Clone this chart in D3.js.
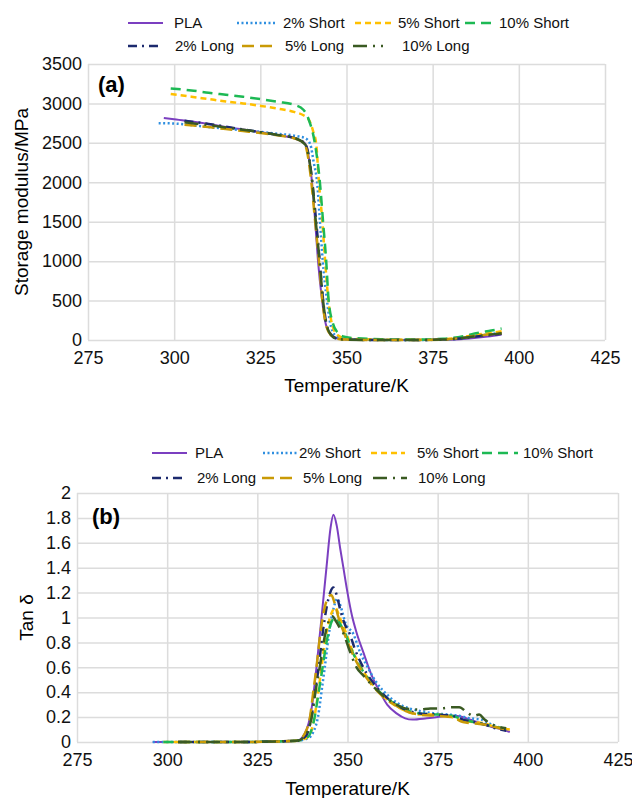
<!DOCTYPE html>
<html>
<head>
<meta charset="utf-8">
<script src="https://cdn.jsdelivr.net/npm/d3@7"></script>
<style>
  body { margin: 0; background: #fff; }
  svg { font-family: "Liberation Sans", Arial, sans-serif; }
  .grid line { stroke: #dcdcdc; stroke-width: 1.5; }
  .grid path { display: none; }
  .grid text { font-size: 18px; fill: #111; }
</style>
</head>
<body>
<svg id="chart" width="632" height="798"></svg>
<script>
// ---- data ----
var tempTicks = [275, 300, 325, 350, 375, 400, 425];
var modTicks = [0, 500, 1000, 1500, 2000, 2500, 3000, 3500];
var tanTicks = [0, 0.2, 0.4, 0.6, 0.8, 1, 1.2, 1.4, 1.6, 1.8, 2];
var seriesNames = ["PLA", "2% Short", "5% Short", "10% Short", "2% Long", "5% Long", "10% Long"];

// storage modulus, [T (K), E' (MPa)]
var modPLA = [[297,2815],[300,2800],[305,2770],[310,2740],[315,2700],[320,2670],[325,2635],[330,2600],[335,2555],[337,2520],[338,2490],[339,2330],[340,2000],[341,1450],[341.7,1020],[342.9,510],[344,200],[345,90],[346.4,40],[348,15],[350,5],[360,0],[370,0],[378,2],[383,10],[387,25],[391,45],[395,70]];
var mod2S = [[295.5,2750],[300,2745],[305,2725],[310,2700],[315,2680],[320,2660],[325,2640],[330,2615],[335,2590],[338,2560],[339.5,2480],[340.5,2250],[341.5,1990],[342.3,1500],[343.1,1010],[344.3,510],[345.5,170],[347,50],[350,10],[360,2],[370,0],[378,5],[383,20],[387,50],[391,70],[395,90]];
var mod5S = [[299,3120],[305,3085],[310,3055],[315,3025],[320,3000],[325,2970],[330,2935],[335,2890],[337.5,2850],[339.1,2790],[340.3,2650],[341.2,2490],[342,2000],[343,1500],[343.8,1000],[344.7,520],[345.8,200],[347.5,60],[350,20],[360,5],[370,2],[378,8],[384,40],[388,70],[392,90],[395,110]];
var mod10S = [[299,3190],[305,3165],[310,3135],[315,3110],[320,3085],[325,3055],[330,3020],[335,2980],[337.5,2920],[339,2800],[340.8,2500],[342.3,1990],[343.2,1500],[344.1,1010],[344.8,510],[346,220],[347.5,90],[349,45],[352,25],[360,10],[370,5],[378,15],[384,50],[388,90],[392,120],[395,145]];
var mod2L = [[303,2780],[310,2740],[315,2705],[320,2670],[325,2635],[330,2600],[335,2560],[338,2490],[339,2350],[340.1,1990],[341,1600],[342.2,1010],[343.2,510],[344.2,200],[345.5,70],[347,20],[350,5],[360,0],[370,0],[378,5],[383,20],[387,40],[391,60],[395,80]];
var mod5L = [[303,2730],[310,2700],[315,2675],[320,2650],[325,2625],[330,2595],[335,2555],[337.5,2500],[338.5,2400],[339.8,2000],[340.8,1550],[342,1010],[343,500],[344,200],[345.5,60],[347,20],[350,5],[360,0],[370,0],[378,5],[383,25],[387,50],[391,70],[395,90]];
var mod10L = [[303,2760],[310,2725],[315,2695],[320,2665],[325,2635],[330,2600],[335,2560],[338,2480],[339,2330],[340.1,1990],[341,1550],[342.2,1000],[343.2,500],[344.2,200],[345.5,65],[347,18],[350,5],[360,0],[370,0],[378,5],[383,22],[387,45],[391,65],[395,85]];

// tan delta, [T (K), tan d]
var tanPLA = [[296,0],[320,0],[336,0.01],[338.2,0.07],[340.1,0.28],[341.4,0.6],[342.8,1.0],[344.2,1.41],[345.3,1.72],[346.1,1.825],[347,1.74],[348,1.55],[348.8,1.41],[350,1.2],[351.2,1.02],[352.5,0.88],[354.4,0.72],[356.5,0.55],[359,0.4],[361,0.3],[363.6,0.23],[366,0.19],[368,0.18],[372,0.19],[375,0.2],[378,0.21],[380,0.21],[383,0.19],[385,0.17],[388,0.14],[390,0.12],[393,0.1],[395,0.08]];
var tan2S = [[296,0],[320,0],[336,0.01],[339,0.03],[340.5,0.08],[341.8,0.2],[343,0.45],[343.7,0.6],[345,0.9],[346.2,1.08],[347.2,1.15],[348.2,1.08],[349.5,0.95],[351.6,0.87],[353.5,0.72],[355.6,0.6],[358,0.48],[361,0.38],[364,0.31],[367,0.27],[370,0.25],[374,0.23],[378,0.22],[381,0.21],[384,0.19],[387,0.18],[390,0.14],[393,0.11],[395,0.1]];
var tan5S = [[299,0],[320,0],[336,0.01],[339,0.04],[340.5,0.15],[341.5,0.32],[342.8,0.6],[344,0.85],[345.5,1.03],[346.6,1.08],[347.5,1.03],[348.5,0.95],[349.7,0.87],[351,0.76],[353,0.64],[355,0.54],[358,0.43],[361,0.34],[364,0.28],[367,0.24],[370,0.22],[375,0.22],[379,0.2],[382,0.17],[385,0.16],[388,0.15],[391,0.12],[395,0.1]];
var tan10S = [[299,0],[320,0],[336,0.01],[339,0.04],[340.9,0.2],[342,0.4],[343.1,0.6],[344.3,0.82],[345.5,0.96],[346.6,1.0],[347.5,0.97],[348.5,0.92],[349.7,0.85],[351,0.75],[353,0.63],[355,0.54],[358,0.43],[361,0.35],[364,0.29],[367,0.25],[370,0.23],[375,0.22],[379,0.21],[382,0.18],[385,0.16],[388,0.14],[391,0.12],[395,0.1]];
var tan2L = [[303,0],[320,0],[336,0.01],[338.5,0.05],[340,0.2],[341,0.4],[342,0.6],[343,0.85],[344.2,1.08],[345.2,1.2],[346.1,1.24],[347,1.18],[348,1.06],[349.2,0.95],[350.6,0.87],[352,0.75],[354,0.62],[357,0.48],[360,0.38],[363,0.31],[366,0.26],[370,0.23],[375,0.22],[379,0.21],[382,0.18],[385,0.16],[388,0.14],[391,0.11],[394,0.09]];
var tan5L = [[303,0],[320,0],[336,0.01],[338,0.06],[339.6,0.2],[340.5,0.4],[341.4,0.6],[342.5,0.88],[343.6,1.07],[344.6,1.16],[345.5,1.18],[346.4,1.12],[347.5,1.0],[349,0.88],[350.5,0.77],[352,0.67],[354,0.57],[357,0.45],[360,0.36],[363,0.3],[366,0.25],[370,0.22],[375,0.21],[379,0.2],[382,0.16],[385,0.15],[388,0.14],[391,0.12],[394,0.1]];
var tan10L = [[303,0],[320,0],[336,0.01],[338.5,0.06],[340.2,0.22],[341.2,0.42],[342.3,0.6],[343.5,0.82],[344.8,0.97],[345.8,1.01],[346.8,0.97],[347.8,0.92],[348.9,0.87],[350.5,0.74],[352.5,0.6],[354.5,0.53],[357,0.45],[360,0.37],[363,0.31],[366,0.27],[370,0.26],[373,0.27],[376,0.27],[379,0.28],[381,0.28],[383,0.24],[385,0.21],[386.5,0.22],[388,0.18],[391,0.13],[394,0.11]];

// line styles per series
var styles = [
  { color: "#7b3fc0", dash: null,        width: 2 },
  { color: "#2f8fe0", dash: "2,2.5",     width: 2.5 },
  { color: "#ffc000", dash: "6,4",       width: 2.5 },
  { color: "#1db954", dash: "10,6",      width: 2.5 },
  { color: "#1c2a6e", dash: "9,5,2,5",   width: 2.5 },
  { color: "#c99a06", dash: "12,6",      width: 2.5 },
  { color: "#3a5a22", dash: "14,6,2,6",  width: 2.5 }
];

var svg = d3.select("#chart");
svg.append("rect").attr("width", 632).attr("height", 798).attr("fill", "#fff");

function drawPanel(opt) {
  var x = d3.scaleLinear().domain([275, 425]).range(opt.xr);
  var y = d3.scaleLinear().domain(opt.yd).range(opt.yr);

  svg.append("g").attr("class", "grid")
    .attr("transform", "translate(0," + opt.yr[0] + ")")
    .call(d3.axisBottom(x).tickValues(tempTicks).tickFormat(d3.format("d"))
      .tickSize(-(opt.yr[0] - opt.yr[1])).tickPadding(11));

  svg.append("g").attr("class", "grid")
    .attr("transform", "translate(" + opt.xr[0] + ",0)")
    .call(d3.axisLeft(y).tickValues(opt.yTicks).tickFormat(opt.fmt)
      .tickSize(-(opt.xr[1] - opt.xr[0])).tickPadding(6));

  var line = d3.line().x(function (d) { return x(d[0]); }).y(function (d) { return y(d[1]); })
    .curve(d3.curveMonotoneX);

  opt.series.forEach(function (s, i) {
    var st = styles[i];
    svg.append("path").datum(s)
      .attr("d", line)
      .attr("fill", "none")
      .attr("stroke", st.color)
      .attr("stroke-width", st.width)
      .attr("stroke-dasharray", st.dash)
      .attr("stroke-linejoin", "round");
  });

  svg.append("text").attr("x", opt.tag[0]).attr("y", opt.tag[1])
    .attr("font-size", 22).attr("font-weight", "bold").text(opt.tagText);

  svg.append("text")
    .attr("x", (opt.xr[0] + opt.xr[1]) / 2).attr("y", opt.xTitleY)
    .attr("text-anchor", "middle").attr("font-size", 19).text("Temperature/K");

  svg.append("text")
    .attr("transform", "translate(" + opt.yTitleX + "," + ((opt.yr[0] + opt.yr[1]) / 2) + ") rotate(-90)")
    .attr("text-anchor", "middle").attr("font-size", 19).text(opt.yTitle);

  // legend: [line x1, line x2, text x, baseline y]
  opt.legend.forEach(function (L, i) {
    var st = styles[i];
    svg.append("line")
      .attr("x1", L[0]).attr("x2", L[1]).attr("y1", L[3] - 5).attr("y2", L[3] - 5)
      .attr("stroke", st.color).attr("stroke-width", st.width)
      .attr("stroke-dasharray", st.dash);
    svg.append("text").attr("x", L[2]).attr("y", L[3])
      .attr("font-size", 15).attr("fill", "#111").text(seriesNames[i]);
  });
}

drawPanel({
  xr: [88, 605], yd: [0, 3500], yr: [340, 64], yTicks: modTicks, fmt: d3.format("d"),
  series: [modPLA, mod2S, mod5S, mod10S, mod2L, mod5L, mod10L],
  tag: [98, 92], tagText: "(a)",
  xTitleY: 392,
  yTitleX: 28, yTitle: "Storage modulus/MPa",
  legend: [
    [128, 163, 174, 28], [237, 275, 283, 28], [355, 392, 398, 28], [465, 495, 499, 28],
    [128, 163, 175, 51], [242, 273, 285, 51], [353, 383, 402, 51]
  ]
});

drawPanel({
  xr: [77, 618], yd: [0, 2], yr: [742, 493], yTicks: tanTicks, fmt: d3.format("~g"),
  series: [tanPLA, tan2S, tan5S, tan10S, tan2L, tan5L, tan10L],
  tag: [92, 524], tagText: "(b)",
  xTitleY: 795,
  yTitleX: 33, yTitle: "Tan \u03b4",
  legend: [
    [152, 187, 195, 458], [263, 298, 299, 458], [371, 405, 417, 458], [482, 518, 523, 458],
    [152, 187, 197, 483], [262, 297, 303, 483], [373, 407, 418, 483]
  ]
});
</script>
</body>
</html>
